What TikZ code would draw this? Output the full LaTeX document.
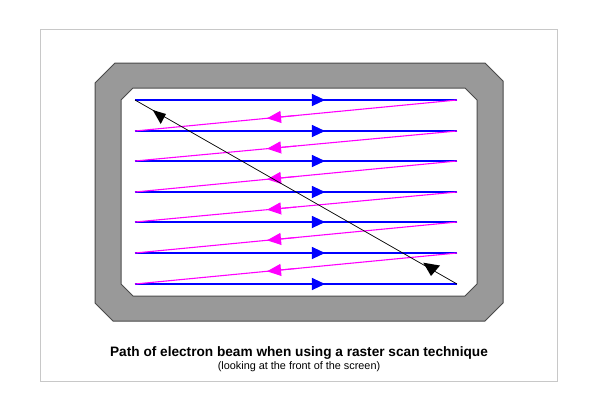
\documentclass[tikz,border=0pt]{standalone}
\usepackage{fontspec}
\setmainfont{Liberation Sans}
\usetikzlibrary{arrows.meta}
\definecolor{bezel}{HTML}{999999}
\definecolor{bezelline}{HTML}{4A4A4A}
\definecolor{frameline}{HTML}{C8C8C8}
\definecolor{scanblue}{RGB}{0,0,255}
\definecolor{scanmag}{RGB}{255,0,255}
\tikzset{
  scanline/.style={draw=scanblue, line width=1.1bp},
  scantip/.style={draw=scanblue, fill=scanblue, line width=1bp, -{Triangle[length=13bp,width=12bp]}},
  retrace/.style={draw=scanmag, line width=1.1bp},
  retracetip/.style={draw=scanmag, fill=scanmag, line width=1bp, -{Triangle[length=14bp,width=12bp]}},
  flyback/.style={draw=black, line width=0.7bp},
  marker/.style={fill=black},
}
\begin{document}
\begin{tikzpicture}[x=1bp,y=-1bp]
\useasboundingbox (0,0) rectangle (593,411);
\fill[white] (0,0) rectangle (593,411);
% outer frame
\draw[frameline, line width=1bp] (40.5,29.5) rectangle (557.5,381.5);
% bezel
\filldraw[fill=bezel, draw=bezelline, line width=1bp]
  (95,83) -- (115,63) -- (485,63) -- (503,81) -- (503,303) -- (485,321)
  -- (113,321) -- (95,303) -- cycle;
\filldraw[fill=white, draw=bezelline, line width=1bp]
  (121,100) -- (133,88) -- (465,88) -- (477,100) -- (477,284) -- (465,296)
  -- (133,296) -- (121,284) -- cycle;
% scan line end points
\foreach \i/\y in {1/100,2/131,3/161,4/192,5/222,6/253,7/284} {
  \coordinate (L\i) at (135,\y);
  \coordinate (R\i) at (457,\y);
}
% forward scan lines
\foreach \i in {1,...,7} {
  \draw[scanline] (L\i) -- (R\i);
  \path (L\i) -- (R\i) coordinate[pos=0.59] (A\i) coordinate[pos=0.5] (B\i);
  \draw[scantip] (B\i) -- (A\i);
}
% retrace lines
\foreach \i/\j in {1/2,2/3,3/4,4/5,5/6,6/7} {
  \draw[retrace] (R\i) -- (L\j);
  \path (R\i) -- (L\j) coordinate[pos=0.59] (M\i) coordinate[pos=0.5] (N\i);
  \draw[retracetip] (N\i) -- (M\i);
}
% vertical flyback
\draw[flyback] (R7) -- (L1);
\fill[marker] (152.7,110) -- (166,114) -- (160.7,124) -- cycle;
\fill[marker] (423.3,262.7) -- (440,265.5) -- (431,276) -- cycle;
% captions
\node[font=\bfseries\fontsize{13.7}{15}\selectfont, anchor=center] (title) at (299,352.5)
  {Path of electron beam when using a raster scan technique};
\node[font=\fontsize{10.9}{12}\selectfont, anchor=center] (sub) at (299,366.5)
  {(looking at the front of the screen)};
\end{tikzpicture}
\end{document}
